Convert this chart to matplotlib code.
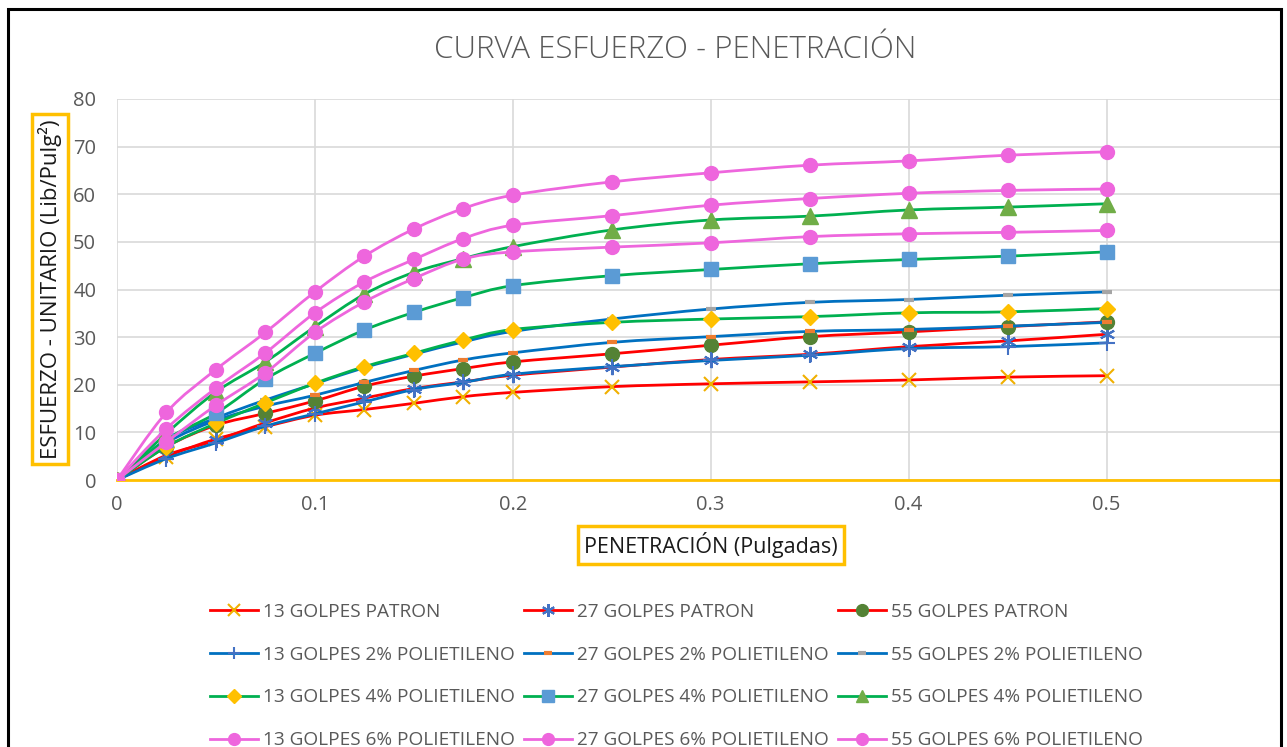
import numpy as np
import matplotlib
matplotlib.use("Agg")
import matplotlib.pyplot as plt
from matplotlib.path import Path
from matplotlib.patches import PathPatch, Rectangle
from matplotlib.lines import Line2D

plt.rcParams['font.family'] = ['Open Sans', 'DejaVu Sans']

# penetracion (pulgadas)
penetracion = [0, 0.025, 0.05, 0.075, 0.1, 0.125, 0.15, 0.175, 0.2, 0.25, 0.3, 0.35, 0.4, 0.45, 0.5]

# esfuerzo unitario (Lib/Pulg2)
patron_13 = [0, 4.9, 8.6, 11.2, 13.6, 14.8, 16.1, 17.5, 18.4, 19.6, 20.2, 20.6, 21.0, 21.6, 21.9]
patron_27 = [0, 5.2, 8.3, 12.0, 15.1, 17.2, 19.2, 20.6, 22.0, 23.7, 25.3, 26.4, 28.0, 29.2, 30.6]
patron_55 = [0, 7.0, 11.5, 14.0, 16.6, 19.7, 21.8, 23.4, 24.8, 26.5, 28.3, 30.1, 31.1, 32.2, 33.2]
poli2_13 = [0, 4.5, 7.8, 11.3, 13.9, 16.4, 19.0, 20.5, 22.2, 23.8, 25.1, 26.2, 27.6, 28.0, 28.8]
poli2_27 = [0, 7.8, 12.5, 15.5, 17.8, 20.5, 23.0, 25.2, 26.7, 28.9, 30.1, 31.2, 31.6, 32.3, 33.1]
poli2_55 = [0, 8.5, 13.0, 16.8, 20.2, 23.6, 26.4, 29.0, 31.2, 33.8, 35.9, 37.3, 37.9, 38.8, 39.5]
poli4_13 = [0, 7.0, 11.9, 16.2, 20.3, 23.8, 26.6, 29.4, 31.6, 33.1, 33.8, 34.3, 35.1, 35.3, 36.0]
poli4_27 = [0, 8.5, 14.0, 21.2, 26.6, 31.5, 35.2, 38.3, 40.8, 42.9, 44.2, 45.4, 46.3, 47.0, 47.9]
poli4_55 = [0, 9.8, 18.5, 24.8, 32.2, 39.0, 43.6, 46.5, 49.0, 52.5, 54.6, 55.4, 56.7, 57.3, 58.0]
poli6_13 = [0, 8.0, 15.7, 22.5, 31.0, 37.4, 42.3, 46.4, 47.9, 48.9, 49.8, 51.1, 51.7, 52.0, 52.4]
poli6_27 = [0, 10.8, 19.3, 26.7, 35.1, 41.6, 46.3, 50.7, 53.5, 55.5, 57.7, 59.1, 60.2, 60.8, 61.1]
poli6_55 = [0, 14.2, 23.2, 31.0, 39.5, 47.0, 52.7, 57.0, 59.8, 62.6, 64.5, 66.1, 67.0, 68.2, 68.9]

labels = ['13 GOLPES PATRON', '27 GOLPES PATRON', '55 GOLPES PATRON',
          '13 GOLPES 2% POLIETILENO', '27 GOLPES 2% POLIETILENO', '55 GOLPES 2% POLIETILENO',
          '13 GOLPES 4% POLIETILENO', '27 GOLPES 4% POLIETILENO', '55 GOLPES 4% POLIETILENO',
          '13 GOLPES 6% POLIETILENO', '27 GOLPES 6% POLIETILENO', '55 GOLPES 6% POLIETILENO']
series = [patron_13, patron_27, patron_55, poli2_13, poli2_27, poli2_55,
          poli4_13, poli4_27, poli4_55, poli6_13, poli6_27, poli6_55]

x_ticks = [0, 0.1, 0.2, 0.3, 0.4, 0.5]
x_tick_labels = ['0', '0.1', '0.2', '0.3', '0.4', '0.5']
y_ticks = [0, 10, 20, 30, 40, 50, 60, 70, 80]

RED, BLUE, GREEN, PINK = '#FF0000', '#0070C0', '#00B050', '#EE66DD'
asterisk = (6, 2, 0)
# line color, marker, marker color, marker size, marker edge width
styles = [
    (RED, 'x', '#F0B000', 10.5, 1.5),
    (RED, asterisk, '#4472C4', 11, 1.5),
    (RED, 'o', '#548235', 10, 1),
    (BLUE, '+', '#4472C4', 11, 1.5),
    (BLUE, '_', '#ED7D31', 7, 3),
    (BLUE, '_', '#A5A5A5', 7, 3),
    (GREEN, 'D', '#FFC000', 8.5, 1),
    (GREEN, 's', '#5B9BD5', 10.5, 1),
    (GREEN, '^', '#70AD47', 11, 1),
    (PINK, 'o', PINK, 10, 1),
    (PINK, 'o', PINK, 10, 1),
    (PINK, 'o', PINK, 10, 1),
]


def smooth_path(xs, ys):
    # bezier like excel "smoothed line"
    p = np.column_stack([xs, ys]).astype(float)
    n = len(p)
    verts = [p[0]]
    codes = [Path.MOVETO]
    for i in range(n - 1):
        p0 = p[i - 1] if i > 0 else p[i]
        p3 = p[i + 2] if i + 2 < n else p[i + 1]
        c1 = p[i] + (p[i + 1] - p0) / 6
        c2 = p[i + 1] - (p3 - p[i]) / 6
        verts += [c1, c2, p[i + 1]]
        codes += [Path.CURVE4] * 3
    return Path(verts, codes)


fig = plt.figure(figsize=(12.87, 7.47), dpi=100)
ax = fig.add_axes([117 / 1287, 1 - 480 / 747, (1280 - 117) / 1287, (480 - 99) / 747])

handles = []
for i, (ys, lab, st) in enumerate(zip(series, labels, styles)):
    lc, mk, mc, ms, mew = st
    ax.add_patch(PathPatch(smooth_path(penetracion, ys), fill=False, edgecolor=lc,
                           lw=2, zorder=3 + i * 0.01, capstyle='round'))
    filled = mk in ('o', 'D', 's', '^')
    ax.plot(penetracion, ys, ls='none', marker=mk, ms=ms, mew=mew,
            mfc=mc if filled else 'none', mec=mc, zorder=3.005 + i * 0.01)
    handles.append(Line2D([], [], color=lc, lw=2, marker=mk, ms=ms * 0.85, mew=mew,
                          mfc=mc if filled else 'none', mec=mc))

ax.set_xlim(0, (1280 - 117) / 1979)
ax.set_ylim(0, 80)
ax.set_xticks(x_ticks)
ax.set_xticklabels(x_tick_labels)
ax.set_yticks(y_ticks)
ax.tick_params(length=0, labelsize=14.5, labelcolor='#595959')
ax.tick_params(axis='x', pad=11)
ax.tick_params(axis='y', pad=15)
ax.grid(True, color='#D9D9D9', lw=1.2)
ax.set_axisbelow(True)
for s in ['top', 'right', 'left']:
    ax.spines[s].set_visible(False)
ax.spines['bottom'].set_color('#FFC000')
ax.spines['bottom'].set_linewidth(2)

fig.text(675 / 1287, 1 - 50 / 747, 'CURVA ESFUERZO - PENETRACIÓN', ha='center', va='center',
         fontsize=22.5, color='#595959', fontweight='light')
fig.text(711 / 1287, 1 - 545 / 747, 'PENETRACIÓN (Pulgadas)', ha='center', va='center',
         fontsize=15.5, color='#1a1a1a',
         bbox=dict(boxstyle='square,pad=0.3', fc='white', ec='#FFC000', lw=2.5))
fig.text(50 / 1287, 1 - 289 / 747, 'ESFUERZO - UNITARIO (Lib/Pulg²)', ha='center', va='center',
         rotation=90, fontsize=16, color='#1a1a1a',
         bbox=dict(boxstyle='square,pad=0.25', fc='white', ec='#FFC000', lw=2.5))

# legend filled row by row (matplotlib fills columns)
order = [0, 3, 6, 9, 1, 4, 7, 10, 2, 5, 8, 11]
leg = fig.legend([handles[k] for k in order], [labels[k] for k in order], ncol=3,
                 loc='upper left', bbox_to_anchor=(210 / 1287, 1 - 603 / 747),
                 frameon=False, fontsize=13.7, handlelength=2.5, handletextpad=0.28,
                 columnspacing=0.5, labelspacing=1.3, borderpad=0, borderaxespad=0,
                 numpoints=1)
for t in leg.get_texts():
    t.set_color('#595959')

fig.patches.append(Rectangle((8 / 1287, -0.1), (1281 - 8) / 1287, 1.1 - 9 / 747,
                             transform=fig.transFigure, fill=False, ec='black', lw=2.2))

fig.savefig('out.png', dpi=100)
